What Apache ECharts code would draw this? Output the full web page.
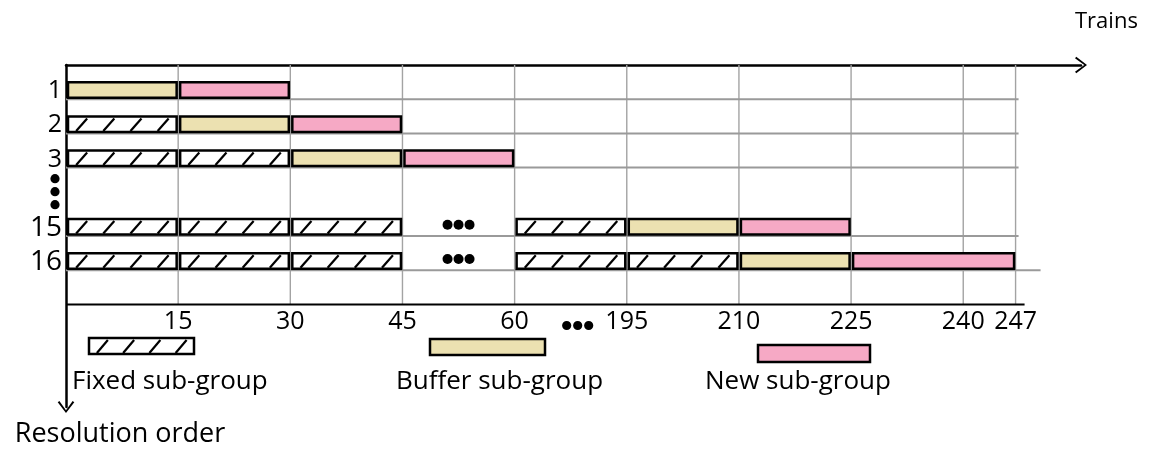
<!DOCTYPE html>
<html>
<head>
<meta charset="utf-8">
<script src="https://cdn.jsdelivr.net/npm/echarts@6/dist/echarts.min.js"></script>
<style>html,body{margin:0;padding:0;background:#fff}#c{width:1151px;height:456px}</style>
</head>
<body>
<div id="c"></div>
<script>
// ---------------- data ----------------
const xTicks = [15, 30, 45, 60, 195, 210, 225, 240, 247];
const lanes = ['1', '2', '3', 'dots', '15', '16', 'pad1', 'pad2', 'pad3', 'pad4'];
const dataRows = ['1', '2', '3', '15', '16'];
// [row, startTrain, endTrain]
const fixedSegments = [
  ['2', 0, 15],
  ['3', 0, 15], ['3', 15, 30],
  ['15', 0, 15], ['15', 15, 30], ['15', 30, 45], ['15', 60, 195],
  ['16', 0, 15], ['16', 15, 30], ['16', 30, 45], ['16', 60, 195], ['16', 195, 210]
];
const bufferSegments = [
  ['1', 0, 15], ['2', 15, 30], ['3', 30, 45], ['15', 195, 210], ['16', 210, 225]
];
const newSegments = [
  ['1', 15, 30], ['2', 30, 45], ['3', 45, 60], ['15', 210, 225], ['16', 225, 247]
];
const ellipsisRows = ['15', '16'];
const ellipsisRowSpan = [45, 60];
const ellipsisAxisSpan = [60, 195];
const legendNames = ['Fixed sub-group', 'Buffer sub-group', 'New sub-group'];

// ---------------- scale (broken axis: 60..195 drawn as one 15-train slot) -------------
const UNIT = 15, BREAK_START = 60, BREAK_END = 195, X_MAX = 9.05;
function slot(v) {
  if (v <= BREAK_START) return v / UNIT;
  if (v >= BREAK_END) return BREAK_START / UNIT + 1 + (v - BREAK_END) / UNIT;
  return BREAK_START / UNIT + (v - BREAK_START) / (BREAK_END - BREAK_START);
}
const lane = (name) => lanes.indexOf(name);

const FONT = 'Open Sans';
const BEIGE = '#ECE1B1';
const PINK = '#F6A9C5';
const GRID = { left: 66, top: 65, right: 70, bottom: 49 };
const laneH = (456 - GRID.top - GRID.bottom) / lanes.length;

const chevron = 'path://M0,11 L8.5,0 L17,11 L15.3,12.3 L8.5,2.8 L1.7,12.3 Z';

function hatchLines(x0, x1, top, bottom, lw) {
  const w = x1 - x0;
  const n = Math.max(1, Math.round(w / 28));
  const out = [];
  for (let i = 0; i < n; i++) {
    const bx = x0 + w * (i + 0.3) / n;
    out.push({
      type: 'line',
      shape: { x1: bx, y1: bottom - 1, x2: bx + 11, y2: top + 2 },
      style: { stroke: '#000', lineWidth: lw }
    });
  }
  return out;
}

function segRender(fill, hatched) {
  return function (params, api) {
    const s = api.coord([api.value(0), api.value(2)]);
    const e = api.coord([api.value(1), api.value(2)]);
    const h = api.size([0, 1])[1];
    const bottom = s[1] + h / 2 - 1.5;
    const top = bottom - 15.5;
    const x0 = s[0] + 2, x1 = e[0] - 1.5;
    const children = [{
      type: 'rect',
      shape: { x: x0, y: top, width: x1 - x0, height: bottom - top },
      style: { fill: fill, stroke: '#000', lineWidth: 2.5 }
    }];
    if (hatched) children.push(...hatchLines(x0, x1, top, bottom, 2.2));
    return { type: 'group', children };
  };
}

const toData = (segs) => segs.map(s => [slot(s[1]), slot(s[2]), lane(s[0])]);

function frameRender(params, api) {
  const h = api.size([0, 1])[1];
  const x0 = api.coord([0, 0])[0];
  const yTop = api.coord([0, 0])[1] - h / 2;
  const yBottom = api.coord([0, lane('pad1')])[1] + h / 2;
  const xEnd = api.coord([slot(xTicks[xTicks.length - 1]), 0])[0];
  const children = [];
  xTicks.forEach(t => {
    const x = api.coord([slot(t), 0])[0];
    children.push({ type: 'line', shape: { x1: x, y1: yTop, x2: x, y2: yBottom },
      style: { stroke: '#a3a3a3', lineWidth: 1.4 } });
  });
  dataRows.forEach((r, i) => {
    const y = api.coord([0, lane(r)])[1] + h / 2;
    const ext = i === dataRows.length - 1 ? 25 : 3;
    children.push({ type: 'line', shape: { x1: x0, y1: y, x2: xEnd + ext, y2: y },
      style: { stroke: '#9a9a9a', lineWidth: 2 } });
  });
  children.push({ type: 'line', shape: { x1: x0, y1: yBottom, x2: xEnd + 9, y2: yBottom },
    style: { stroke: '#000', lineWidth: 2 } });
  return { type: 'group', children };
}

// ellipsis: [xSlot, lane, kind] kind 0 = in-row, 1 = vertical beside y axis, 2 = under x axis
const ellipsisData = ellipsisRows.map(r => [slot((ellipsisRowSpan[0] + ellipsisRowSpan[1]) / 2), lane(r), 0])
  .concat([[0, lane('dots'), 1]])
  .concat([[slot((ellipsisAxisSpan[0] + ellipsisAxisSpan[1]) / 2), lane('pad2'), 2]]);

function ellipsisRender(params, api) {
  const p = api.coord([api.value(0), api.value(1)]);
  const h = api.size([0, 1])[1];
  const kind = api.value(2);
  const children = [];
  if (kind === 0) {
    const cy = p[1] + h / 2 - 1.5 - 7.75 - 2;
    [-11, 0, 11].forEach(d => children.push({ type: 'circle', shape: { cx: p[0] + d, cy, r: 5 }, style: { fill: '#000' } }));
  } else if (kind === 1) {
    [-6, 7, 20].forEach(d => children.push({ type: 'circle', shape: { cx: p[0] - 11, cy: p[1] + d, r: 4.6 }, style: { fill: '#000' } }));
  } else {
    [-11, 0, 11].forEach(d => children.push({ type: 'circle', shape: { cx: p[0] + 7 + d, cy: p[1] + 4, r: 4.6 }, style: { fill: '#000' } }));
  }
  return { type: 'group', children };
}

// legend graphics
function legendBox(x, y, w, h, fill, hatched) {
  const children = [{ type: 'rect', shape: { x: 0, y: 0, width: w, height: h },
    style: { fill, stroke: '#000', lineWidth: 2.5 } }];
  if (hatched) children.push(...hatchLines(0, w, 0, h, 2.2));
  return { type: 'group', x, y, children };
}
const legendText = (txt, x) => ({ type: 'text', x, y: 382,
  style: { text: txt, font: '26px "' + FONT + '"', fill: '#000', verticalAlign: 'middle', align: 'left' } });

const chart = echarts.init(document.getElementById('c'));
chart.setOption({
  animation: false,
  backgroundColor: '#fff',
  grid: GRID,
  xAxis: [{
    type: 'value', min: 0, max: X_MAX, position: 'top',
    axisLine: { show: true, onZero: false, symbol: ['none', chevron], symbolSize: [17, 12],
      lineStyle: { color: '#000', width: 2.5 } },
    axisTick: { show: false }, axisLabel: { show: false }, splitLine: { show: false },
    name: 'Trains', nameLocation: 'end', nameGap: -6,
    nameTextStyle: { fontFamily: FONT, fontSize: 22, color: '#000', lineHeight: 30, verticalAlign: 'bottom', padding: [0, 0, 28, 0] }
  }, {
    type: 'value', min: 0, max: X_MAX, position: 'bottom', offset: -laneH * 3,
    axisLine: { show: false }, axisTick: { show: false }, splitLine: { show: false },
    axisLabel: {
      customValues: xTicks.map(slot),
      formatter: (v) => { const t = xTicks.find(tt => Math.abs(slot(tt) - v) < 1e-6); return t === undefined ? '' : String(t); },
      fontFamily: FONT, fontSize: 25, color: '#000', margin: 5
    }
  }],
  yAxis: {
    type: 'category', inverse: true, data: lanes,
    axisLine: { show: true, symbol: [chevron, 'none'], symbolSize: [17, 12], lineStyle: { color: '#000', width: 2.5 } },
    axisTick: { show: false }, splitLine: { show: false },
    axisLabel: {
      margin: 4, padding: [18, 0, 0, 0],
      formatter: (v) => dataRows.includes(v) ? (v.length > 1 ? '{d|' + v + '}' : '{s|' + v + '}') : '',
      rich: {
        s: { fontFamily: FONT, fontSize: 25, color: '#000' },
        d: { fontFamily: FONT, fontSize: 28, color: '#000' }
      }
    },
    name: 'Resolution order', nameLocation: 'end', nameGap: 14,
    nameTextStyle: { fontFamily: FONT, fontSize: 27, color: '#000', padding: [0, 0, 0, 108] }
  },
  series: [
    { type: 'custom', name: 'frame', silent: true, z: 1, renderItem: frameRender, data: [[0, 0]], encode: { x: 0, y: 1 } },
    { type: 'custom', name: legendNames[0], z: 3, renderItem: segRender('#fff', true), data: toData(fixedSegments), encode: { x: [0, 1], y: 2 } },
    { type: 'custom', name: legendNames[1], z: 3, renderItem: segRender(BEIGE, false), data: toData(bufferSegments), encode: { x: [0, 1], y: 2 } },
    { type: 'custom', name: legendNames[2], z: 3, renderItem: segRender(PINK, false), data: toData(newSegments), encode: { x: [0, 1], y: 2 } },
    { type: 'custom', name: 'ellipsis', silent: true, z: 3, renderItem: ellipsisRender, data: ellipsisData, encode: { x: 0, y: 1 } }
  ],
  graphic: [
    legendBox(89, 338, 105, 16, '#fff', true),
    legendBox(430, 339, 115, 16, BEIGE, false),
    legendBox(758, 345, 112, 17, PINK, false),
    legendText(legendNames[0], 72),
    legendText(legendNames[1], 396),
    legendText(legendNames[2], 705)
  ]
});
</script>
</body>
</html>
